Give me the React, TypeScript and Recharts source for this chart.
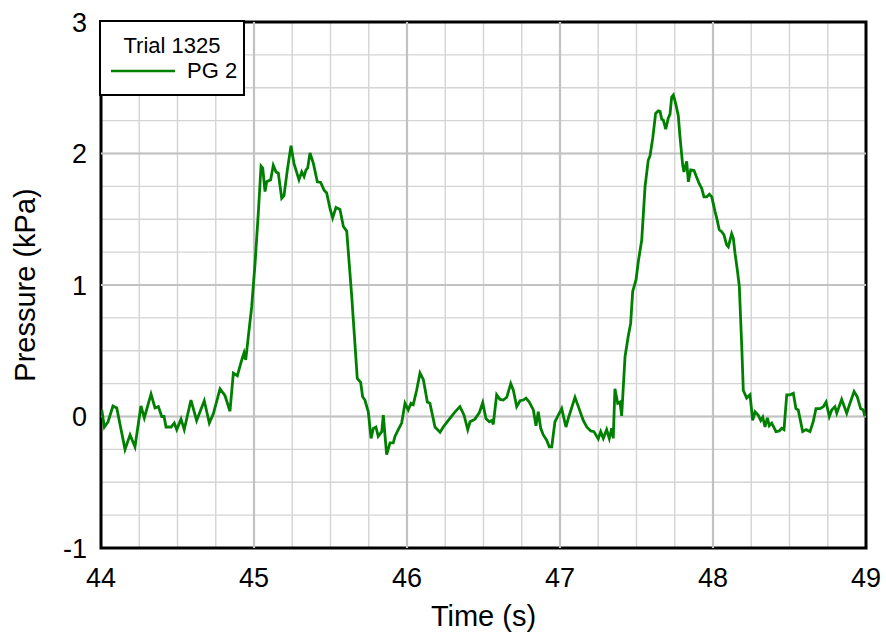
import {
  LineChart,
  Line,
  XAxis,
  YAxis,
  CartesianGrid,
  ReferenceLine,
  ReferenceArea,
  Legend,
} from 'recharts';

const FONT = '"Liberation Sans", Arial, sans-serif';

// Trial 1325, pressure gauge PG 2
const timeS = [
  44.005, 44.022, 44.046, 44.078, 44.103, 44.157, 44.19, 44.222, 44.261, 44.283,
  44.327, 44.353, 44.375, 44.397, 44.412, 44.425, 44.458, 44.479, 44.495, 44.523,
  44.544, 44.588, 44.625, 44.675, 44.708, 44.734, 44.778, 44.81, 44.843, 44.865,
  44.891, 44.92, 44.935, 44.946, 44.963, 44.985, 45.007, 45.028, 45.046, 45.057,
  45.072, 45.083, 45.109, 45.126, 45.144, 45.159, 45.181, 45.196, 45.218, 45.242,
  45.261, 45.294, 45.312, 45.327, 45.34, 45.351, 45.366, 45.388, 45.414, 45.436,
  45.458, 45.475, 45.497, 45.514, 45.536, 45.562, 45.584, 45.606, 45.639, 45.675,
  45.697, 45.71, 45.725, 45.747, 45.765, 45.78, 45.797, 45.812, 45.835, 45.845,
  45.867, 45.889, 45.91, 45.922, 45.943, 45.965, 45.987, 46.008, 46.026, 46.041,
  46.063, 46.085, 46.107, 46.133, 46.15, 46.183, 46.216, 46.237, 46.27, 46.314,
  46.346, 46.373, 46.397, 46.412, 46.444, 46.473, 46.495, 46.516, 46.538, 46.554,
  46.564, 46.586, 46.608, 46.629, 46.652, 46.678, 46.695, 46.717, 46.739, 46.76,
  46.778, 46.799, 46.826, 46.843, 46.858, 46.874, 46.891, 46.913, 46.93, 46.946,
  46.967, 46.989, 47.011, 47.039, 47.054, 47.098, 47.12, 47.152, 47.175, 47.201,
  47.222, 47.25, 47.266, 47.283, 47.305, 47.322, 47.338, 47.348, 47.359, 47.377,
  47.392, 47.403, 47.425, 47.446, 47.462, 47.475, 47.497, 47.512, 47.534, 47.556,
  47.577, 47.588, 47.606, 47.625, 47.642, 47.654, 47.665, 47.675, 47.691, 47.708,
  47.719, 47.73, 47.741, 47.758, 47.773, 47.784, 47.802, 47.81, 47.828, 47.839,
  47.854, 47.876, 47.893, 47.91, 47.926, 47.941, 47.959, 47.976, 47.992, 48.013,
  48.024, 48.041, 48.057, 48.072, 48.089, 48.1, 48.111, 48.122, 48.133, 48.144,
  48.159, 48.172, 48.188, 48.198, 48.22, 48.242, 48.259, 48.275, 48.296, 48.312,
  48.325, 48.34, 48.355, 48.368, 48.384, 48.412, 48.433, 48.449, 48.464, 48.482,
  48.503, 48.525, 48.542, 48.557, 48.586, 48.608, 48.634, 48.655, 48.673, 48.699,
  48.721, 48.739, 48.76, 48.776, 48.797, 48.809, 48.841, 48.874, 48.895, 48.922,
  48.943, 48.965, 48.982, 48.993,
];

const pressureKPa = [
  0.05, -0.08, -0.04, 0.08, 0.065, -0.25, -0.14, -0.23, 0.08, -0.01,
  0.17, 0.065, 0.075, 0.0, 0.0, -0.08, -0.08, -0.05, -0.1, -0.02,
  -0.1, 0.125, -0.03, 0.12, -0.05, 0.02, 0.21, 0.16, 0.04, 0.33,
  0.31, 0.43, 0.485, 0.43, 0.61, 0.835, 1.165, 1.545, 1.905, 1.89,
  1.71, 1.785, 1.8, 1.91, 1.86, 1.85, 1.66, 1.68, 1.875, 2.06,
  1.925, 1.8, 1.86, 1.825, 1.875, 1.89, 2.005, 1.925, 1.785, 1.78,
  1.72, 1.7, 1.58, 1.51, 1.59, 1.575, 1.445, 1.41, 0.91, 0.29,
  0.26, 0.15, 0.125, 0.036, -0.166, -0.09, -0.08, -0.15, -0.115, 0.01,
  -0.29, -0.2, -0.2, -0.15, -0.1, -0.05, 0.1, 0.05, 0.1, 0.09,
  0.2, 0.33, 0.28, 0.11, 0.1, -0.08, -0.12, -0.08, -0.03, 0.035,
  0.075, 0.01, -0.1, -0.04, -0.02, 0.03, 0.105, -0.015, -0.04, -0.03,
  -0.06, 0.165, 0.13, 0.125, 0.146, 0.25, 0.2, 0.075, 0.12, 0.125,
  0.14, 0.11, 0.05, -0.07, 0.036, -0.09, -0.14, -0.18, -0.23, -0.23,
  -0.04, 0.01, 0.06, -0.08, -0.015, 0.146, 0.075, -0.03, -0.08, -0.11,
  -0.115, -0.17, -0.115, -0.166, -0.1, -0.166, -0.09, -0.166, 0.21, 0.1,
  0.11, 0.005, 0.455, 0.61, 0.71, 0.95, 1.04, 1.18, 1.34, 1.75,
  1.95, 1.98, 2.115, 2.305, 2.325, 2.32, 2.26, 2.255, 2.185, 2.27,
  2.3, 2.43, 2.445, 2.37, 2.29, 2.13, 1.91, 1.86, 1.94, 1.785,
  1.875, 1.87, 1.82, 1.77, 1.735, 1.67, 1.67, 1.69, 1.67, 1.56,
  1.51, 1.42, 1.405, 1.38, 1.305, 1.29, 1.34, 1.39, 1.355, 1.24,
  1.115, 0.99, 0.53, 0.2, 0.14, 0.165, -0.03, 0.036, 0.01, -0.03,
  -0.005, -0.08, -0.01, -0.07, -0.05, -0.115, -0.11, -0.09, -0.1, 0.165,
  0.165, 0.176, 0.06, 0.05, -0.115, -0.1, -0.115, -0.04, 0.06, 0.06,
  0.075, 0.11, 0.0, 0.05, 0.075, 0.025, 0.13, 0.025, 0.1, 0.19,
  0.15, 0.06, 0.05, 0.0,
];

// grid every quarter, labels only on whole numbers
const xTicks = [
  44, 44.25, 44.5, 44.75, 45, 45.25, 45.5, 45.75, 46, 46.25, 46.5, 46.75,
  47, 47.25, 47.5, 47.75, 48, 48.25, 48.5, 48.75, 49,
];
const yTicks = [
  -1, -0.75, -0.5, -0.25, 0, 0.25, 0.5, 0.75, 1, 1.25, 1.5, 1.75,
  2, 2.25, 2.5, 2.75, 3,
];
const majorX = [45, 46, 47, 48];
const majorY = [0, 1, 2];

const wholeOnly = (v: number) => (Number.isInteger(v) ? String(v) : '');

const LegendBox = () => (
  <div
    style={{
      width: 146,
      height: 76,
      boxSizing: 'border-box',
      border: '2px solid #000',
      background: '#fff',
      fontFamily: FONT,
      fontSize: 22,
      color: '#000',
    }}
  >
    <div style={{ textAlign: 'center', marginTop: 12, lineHeight: '24px' }}>Trial 1325</div>
    <div style={{ display: 'flex', alignItems: 'center', marginTop: 1 }}>
      <svg width={76} height={6} style={{ marginLeft: 10 }}>
        <line x1={0} y1={3} x2={64} y2={3} stroke="#008000" strokeWidth={2.5} />
      </svg>
      <span style={{ lineHeight: '24px' }}>PG 2</span>
    </div>
  </div>
);

export default function App() {
  const data = timeS.map((t, i) => ({ t, p: pressureKPa[i] }));

  return (
    <div
      style={{
        position: 'absolute',
        left: 0,
        top: 0,
        width: 886,
        height: 632,
        background: '#fff',
        fontFamily: FONT,
      }}
    >
      <LineChart
        width={886}
        height={632}
        data={data}
        margin={{ top: 22, right: 20, bottom: 0, left: 0 }}
      >
        <CartesianGrid stroke="#d4d4d4" strokeWidth={1.4} />
        {majorX.map((v) => (
          <ReferenceLine key={'mx' + v} x={v} stroke="#c2c2c2" strokeWidth={2.2} />
        ))}
        {majorY.map((v) => (
          <ReferenceLine key={'my' + v} y={v} stroke="#c2c2c2" strokeWidth={2.2} />
        ))}
        <XAxis
          type="number"
          dataKey="t"
          domain={[44, 49]}
          ticks={xTicks}
          interval={0}
          tickFormatter={wholeOnly}
          allowDataOverflow
          axisLine={false}
          tickLine={false}
          tickSize={6}
          tickMargin={14}
          height={84}
          tick={{ fill: '#000', fontSize: 27, fontFamily: FONT }}
          label={{
            value: 'Time (s)',
            position: 'insideBottom',
            offset: 6,
            fill: '#000',
            fontSize: 29,
            fontFamily: FONT,
          }}
        />
        <YAxis
          type="number"
          domain={[-1, 3]}
          ticks={yTicks}
          interval={0}
          tickFormatter={wholeOnly}
          allowDataOverflow
          axisLine={false}
          tickLine={false}
          tickSize={6}
          tickMargin={8}
          width={101}
          tick={{ fill: '#000', fontSize: 27, fontFamily: FONT }}
          label={{
            value: 'Pressure (kPa)',
            angle: -90,
            position: 'insideLeft',
            offset: 25,
            fill: '#000',
            fontSize: 29,
            fontFamily: FONT,
            style: { textAnchor: 'middle' },
          }}
        />
        <Line
          type="linear"
          dataKey="p"
          name="PG 2"
          stroke="#008000"
          strokeWidth={2.8}
          dot={false}
          isAnimationActive={false}
        />
        <ReferenceArea
          x1={44}
          x2={49}
          y1={-1}
          y2={3}
          fill="none"
          stroke="#000"
          strokeWidth={3}
        />
        <Legend
          layout="horizontal"
          verticalAlign="middle"
          align="center"
          content={() => <LegendBox />}
          wrapperStyle={{ left: 99, top: 20, width: 146, height: 76 }}
        />
      </LineChart>
    </div>
  );
}
